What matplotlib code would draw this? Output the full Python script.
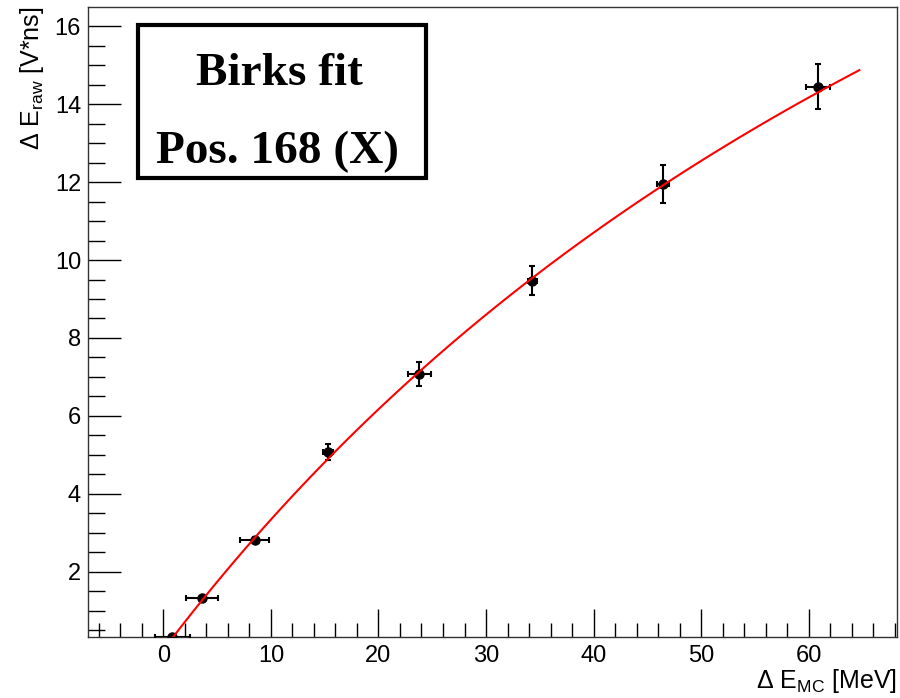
import numpy as np
import matplotlib
matplotlib.use("Agg")
import matplotlib.pyplot as plt
from matplotlib.ticker import MultipleLocator
from matplotlib.patches import Rectangle

plt.rcParams['font.family'] = ['Liberation Sans', 'DejaVu Sans']
plt.rcParams['mathtext.default'] = 'regular'

# Measured points: MC energy deposit vs raw integrated signal
e_mc = [0.85, 3.6, 8.5, 15.3, 23.8, 34.3, 46.45, 60.85]
e_mc_err = [1.6, 1.5, 1.35, 0.5, 1.1, 0.4, 0.6, 1.1]
e_raw = [0.33, 1.33, 2.82, 5.07, 7.08, 9.47, 11.95, 14.45]
e_raw_err = [0.05, 0.05, 0.08, 0.2, 0.3, 0.37, 0.48, 0.58]

# Birks-type fit  E_raw = A * E / (1 + kB * E)
birks_A = 0.3644
birks_kB = 0.00905
fit_range = (0.0, 64.7)

title_lines = ["Birks fit", "Pos. 168 (X)"]

fig = plt.figure(figsize=(9.0, 6.98), dpi=100)
ax = fig.add_axes([88/900, 1 - 637/698, (897 - 88)/900, (637 - 7)/698])

ax.errorbar(e_mc, e_raw, xerr=e_mc_err, yerr=e_raw_err, fmt='o', color='black',
            ms=6.5, elinewidth=1.5, capsize=2, capthick=1.5, zorder=3)

xf = np.linspace(fit_range[0], fit_range[1], 120)
ax.plot(xf, birks_A * xf / (1 + birks_kB * xf), color='red', lw=1.5, zorder=4)

ax.set_xlim(-7.0, 68.2)
ax.set_ylim(0.33, 16.49)

ax.xaxis.set_major_locator(MultipleLocator(10))
ax.xaxis.set_minor_locator(MultipleLocator(2))
ax.yaxis.set_major_locator(MultipleLocator(2))
ax.yaxis.set_minor_locator(MultipleLocator(0.5))
ax.tick_params(which='both', direction='in', top=False, right=False,
               labelsize=17, width=1, color='black')
ax.tick_params(axis='x', which='major', length=20, pad=6)
ax.tick_params(axis='x', which='minor', length=10)
ax.tick_params(axis='y', which='major', length=24, pad=5)
ax.tick_params(axis='y', which='minor', length=12)
for s in ax.spines.values():
    s.set_linewidth(1.0)
    s.set_color('#333333')

ax.set_xlabel(r'$\Delta$ E$_{MC}$ [MeV]', fontsize=18, ha='right', va='baseline')
ax.xaxis.set_label_coords(1.0, -(688 - 637) / 630)
ax.set_ylabel(r'$\Delta$ E$_{raw}$ [V*ns]', fontsize=18, loc='top', labelpad=6)

# Title box in the upper-left corner
box = Rectangle((138/900, 1 - 178/698), (426 - 138)/900, (178 - 25)/698,
                transform=fig.transFigure, fill=True, facecolor='white',
                edgecolor='black', lw=3, zorder=5)
fig.patches.append(box)
fig.text(279/900, 1 - 85/698, title_lines[0], ha='center', va='baseline',
         fontsize=34, fontweight='bold', family='Liberation Serif', zorder=6)
fig.text(278/900, 1 - 163/698, title_lines[1], ha='center', va='baseline',
         fontsize=34, fontweight='bold', family='Liberation Serif', zorder=6)

fig.savefig('out.png', dpi=100)
